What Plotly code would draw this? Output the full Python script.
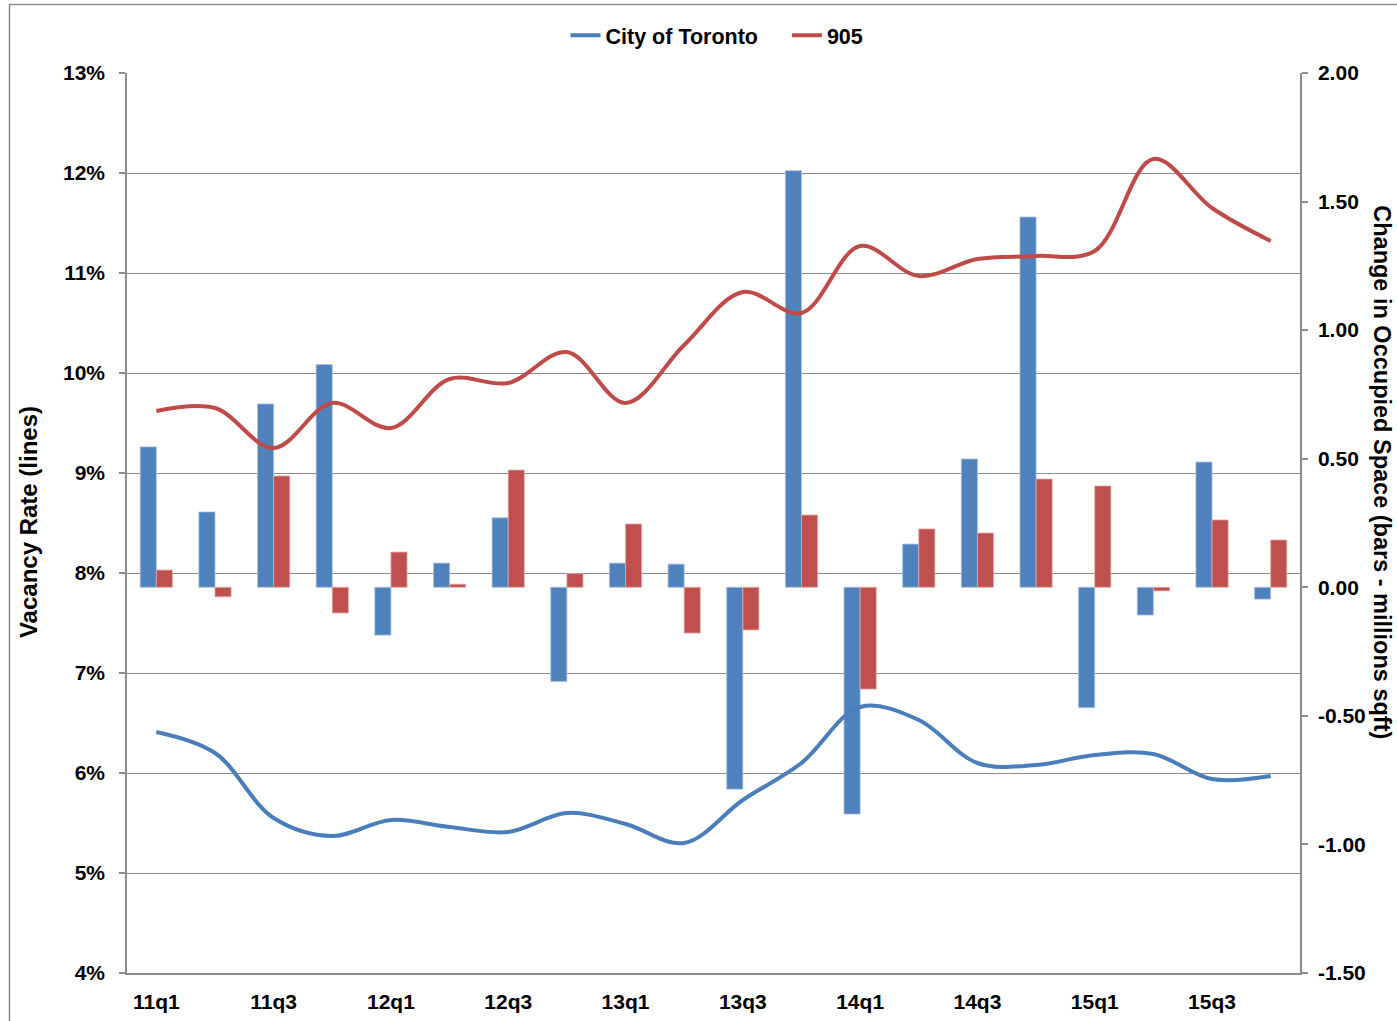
import plotly.graph_objects as go

quarters = ['11q1', '11q2', '11q3', '11q4', '12q1', '12q2', '12q3', '12q4',
            '13q1', '13q2', '13q3', '13q4', '14q1', '14q2', '14q3', '14q4',
            '15q1', '15q2', '15q3', '15q4']
tick_quarters = ['11q1', '11q3', '12q1', '12q3', '13q1', '13q3', '14q1', '14q3', '15q1', '15q3']

# Vacancy rates (%) - lines, left axis
toronto_vacancy = [6.41, 6.20, 5.55, 5.37, 5.53, 5.46, 5.41, 5.60, 5.49, 5.30,
                   5.73, 6.10, 6.66, 6.53, 6.10, 6.08, 6.18, 6.19, 5.94, 5.97]
gta905_vacancy = [9.62, 9.65, 9.25, 9.70, 9.45, 9.94, 9.90, 10.21, 9.70, 10.28,
                  10.81, 10.60, 11.27, 10.97, 11.14, 11.17, 11.22, 12.14, 11.65, 11.32]

# Change in occupied space (millions sqft) - bars, right axis
toronto_change = [0.546, 0.293, 0.713, 0.866, -0.186, 0.094, 0.270, -0.366, 0.094, 0.090,
                  -0.785, 1.620, -0.882, 0.168, 0.499, 1.440, -0.468, -0.108, 0.487, -0.046]
gta905_change = [0.067, -0.037, 0.433, -0.100, 0.137, 0.012, 0.456, 0.053, 0.246, -0.178,
                 -0.166, 0.281, -0.396, 0.227, 0.211, 0.421, 0.394, -0.014, 0.262, 0.184]

left_ticks = [4, 5, 6, 7, 8, 9, 10, 11, 12, 13]
right_ticks = [-1.5, -1.0, -0.5, 0.0, 0.5, 1.0, 1.5, 2.0]
right_labels = [f"{v:.2f}" for v in right_ticks]

BLUE_BAR = '#4F81BD'
RED_BAR = '#C0504D'
BLUE_LINE = '#4A7EBB'
RED_LINE = '#BE4B48'
GRID = '#8C8C8C'
FONT = 'Liberation Sans, Arial, sans-serif'
NB = '\u00a0'

fig = go.Figure()

fig.add_trace(go.Bar(x=quarters, y=toronto_change, yaxis='y', name='City of Toronto bars',
                     marker=dict(color=BLUE_BAR, line=dict(color='#A7C0DE', width=0.8)),
                     showlegend=False))
fig.add_trace(go.Bar(x=quarters, y=gta905_change, yaxis='y', name='905 bars',
                     marker=dict(color=RED_BAR, line=dict(color='#E0A9A8', width=0.8)),
                     showlegend=False))
fig.add_trace(go.Scatter(x=quarters, y=toronto_vacancy, yaxis='y2', name='City of Toronto' + NB * 4,
                         mode='lines', line=dict(color=BLUE_LINE, width=4, shape='spline', smoothing=1.0)))
fig.add_trace(go.Scatter(x=quarters, y=gta905_vacancy, yaxis='y2', name='905',
                         mode='lines', line=dict(color=RED_LINE, width=4, shape='spline', smoothing=1.0)))

tickfont = dict(family=FONT, size=21, color='#000000', weight='bold')

fig.update_layout(
    width=1397, height=1021,
    margin=dict(l=127, r=97, t=73, b=48, autoexpand=False),
    paper_bgcolor='white', plot_bgcolor='white',
    font=dict(family=FONT, size=21, color='#000000', weight='bold'),
    barmode='group', bargap=0.45, bargroupgap=0,
    showlegend=True,
    legend=dict(orientation='h', x=0.503, xanchor='center', y=1.042, yanchor='middle',
                font=dict(family=FONT, size=21.5, color='#000000', weight='bold'),
                bgcolor='rgba(0,0,0,0)', itemwidth=30, traceorder='normal'),
    xaxis=dict(type='category', categoryorder='array', categoryarray=quarters,
               tickmode='array', tickvals=tick_quarters, ticktext=tick_quarters,
               showline=True, linecolor=GRID, linewidth=1.5, showgrid=False,
               ticks='', ticklabelstandoff=9, tickfont=tickfont, automargin=False),
    yaxis=dict(side='right', range=[-1.5, 2.0], tickmode='array', tickvals=right_ticks,
               ticktext=right_labels, showgrid=False, zeroline=False,
               showline=True, linecolor=GRID, linewidth=1.5,
               ticks='outside', ticklen=6, tickcolor=GRID, tickwidth=1.5,
               ticklabelstandoff=6, tickfont=tickfont, automargin=False),
    yaxis2=dict(side='left', overlaying='y', range=[4, 13], tickmode='array',
                tickvals=left_ticks, ticktext=[f"{v}%" for v in left_ticks],
                showgrid=True, gridcolor=GRID, gridwidth=1.2, zeroline=False,
                showline=True, linecolor=GRID, linewidth=1.5,
                ticks='outside', ticklen=6, tickcolor=GRID, tickwidth=1.5,
                ticklabelstandoff=10, tickfont=tickfont, automargin=False),
)

fig.add_annotation(text='Vacancy Rate (lines)', xref='paper', yref='paper',
                   x=-0.0844, y=0.501, textangle=-90, showarrow=False,
                   xanchor='center', yanchor='middle',
                   font=dict(family=FONT, size=24, color='#000000', weight='bold'))
fig.add_annotation(text='Change in Occupied Space (bars - millions sqft)', xref='paper', yref='paper',
                   x=1.0702, y=0.556, textangle=90, showarrow=False,
                   xanchor='center', yanchor='middle',
                   font=dict(family=FONT, size=23.5, color='#000000', weight='bold'))

# outer chart border
fig.add_shape(type='rect', xref='paper', yref='paper',
              x0=-0.1002, x1=1.09, y0=-0.06, y1=1.0761,
              line=dict(color='#8C8C8C', width=1.5), fillcolor='rgba(0,0,0,0)', layer='below')

fig.write_html('out.html', config={'displayModeBar': False},
               post_script="document.body.style.margin='0';document.body.style.overflow='hidden';")
